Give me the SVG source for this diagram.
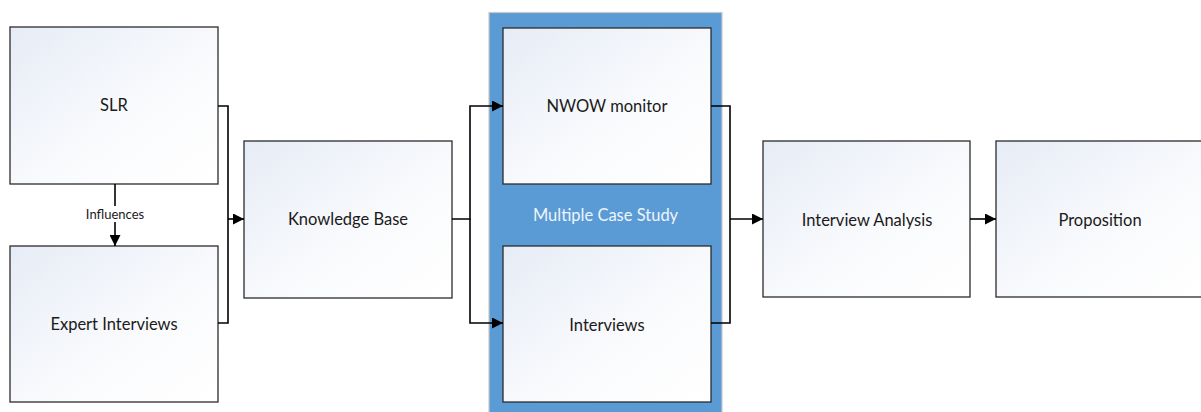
<svg xmlns="http://www.w3.org/2000/svg" width="1201" height="412" viewBox="0 0 1201 412">
<style>
.box{fill:url(#g);stroke:#2b2b2b;stroke-width:1.3}
.t{font-family:Lato,"Open Sans",sans-serif;font-size:16.5px;fill:#1a1a1a;text-anchor:middle;dominant-baseline:central}
.c{fill:none;stroke:#000;stroke-width:1.6}
</style>
<defs>
<linearGradient id="g" x1="0" y1="0" x2="1" y2="1">
<stop offset="0" stop-color="#e6ecf6"/>
<stop offset="0.6" stop-color="#fafbfd"/>
<stop offset="1" stop-color="#ffffff"/>
</linearGradient>
<marker id="a" viewBox="0 0 10 10" refX="10" refY="5" markerWidth="11" markerHeight="11" markerUnits="userSpaceOnUse" orient="auto">
<path d="M0,0L10,5L0,10Z" fill="#000"/>
</marker>
</defs>
<rect width="1201" height="412" fill="#fff"/>
<g id="case-study">
<rect x="489" y="12.5" width="233" height="405" fill="#5b9bd5" stroke="#c8c8c8" stroke-width="1.2"/>
<text x="605.5" y="215" class="t" style="fill:#eef4fb">Multiple Case Study</text>
</g>
<g id="slr"><rect class="box" x="10" y="27" width="208" height="157"/><text class="t" x="114" y="105">SLR</text></g>
<g id="expert"><rect class="box" x="10" y="246" width="208" height="156"/><text class="t" x="114" y="324">Expert Interviews</text></g>
<g id="kb"><rect class="box" x="244" y="141" width="208" height="157"/><text class="t" x="348" y="219">Knowledge Base</text></g>
<g id="nwow"><rect class="box" x="503" y="28" width="208" height="156"/><text class="t" x="607" y="106">NWOW monitor</text></g>
<g id="interviews"><rect class="box" x="503" y="246" width="208" height="156"/><text class="t" x="607" y="325">Interviews</text></g>
<g id="analysis"><rect class="box" x="763" y="141" width="207" height="156"/><text class="t" x="867" y="220">Interview Analysis</text></g>
<g id="proposition"><rect class="box" x="996" y="141" width="210" height="156"/><text class="t" x="1100" y="220">Proposition</text></g>
<g id="connectors">
<path class="c" d="M115,184V246" marker-end="url(#a)"/>
<rect x="78" y="206" width="74" height="16" fill="#fff"/>
<text x="115" y="214" style="font-family:Lato,'Open Sans',sans-serif;font-size:13px;fill:#1a1a1a;text-anchor:middle;dominant-baseline:central">Influences</text>
<path class="c" d="M218,106H228V323H218"/>
<path class="c" d="M228,219H244" marker-end="url(#a)"/>
<path class="c" d="M452,219H470V106H503" marker-end="url(#a)"/>
<path class="c" d="M470,219V323H503" marker-end="url(#a)"/>
<path class="c" d="M711,106H730V323H711"/>
<path class="c" d="M730,219H763" marker-end="url(#a)"/>
<path class="c" d="M970,219H996" marker-end="url(#a)"/>
</g>
</svg>
